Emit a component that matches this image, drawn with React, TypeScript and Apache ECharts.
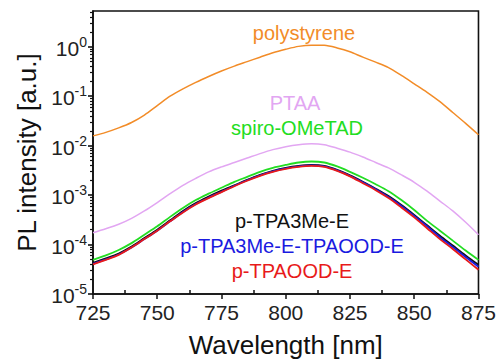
import React, { useEffect, useRef } from "react";
import * as echarts from "echarts";

// Wavelength grid (nm)
const wavelengths = [
  725, 730, 735, 740, 745, 750, 755, 760, 765, 770, 775, 780, 785, 790, 795, 800,
  805, 810, 815, 820, 825, 830, 835, 840, 845, 850, 855, 860, 865, 870, 875,
];

// PL intensity (a.u.)
const polystyrene = [
  0.0158, 0.0186, 0.0229, 0.0295, 0.0417, 0.0646, 0.1, 0.141, 0.191, 0.251, 0.324,
  0.407, 0.501, 0.617, 0.759, 0.891, 1.02, 1.08, 1.07, 0.95, 0.794, 0.617, 0.49, 0.38,
  0.263, 0.178, 0.12, 0.0776, 0.0468, 0.0282, 0.0166,
];
const ptaa = [
  1.74e-4, 2.09e-4, 2.57e-4, 3.39e-4, 4.79e-4, 7.08e-4, 1.07e-3, 1.58e-3, 2.19e-3,
  2.95e-3, 3.72e-3, 4.57e-3, 5.62e-3, 6.92e-3, 8.32e-3, 9.55e-3, 1.05e-2, 1.1e-2,
  1.05e-2, 8.91e-3, 7.41e-3, 5.89e-3, 4.57e-3, 3.55e-3, 2.57e-3, 1.82e-3, 1.2e-3,
  7.59e-4, 4.79e-4, 2.82e-4, 1.58e-4,
];
const spiro = [
  4.9e-5, 6.03e-5, 7.76e-5, 1.07e-4, 1.58e-4, 2.34e-4, 3.63e-4, 5.5e-4, 7.94e-4,
  1.07e-3, 1.41e-3, 1.86e-3, 2.34e-3, 2.95e-3, 3.55e-3, 4.07e-3, 4.57e-3, 4.79e-3,
  4.57e-3, 3.8e-3, 2.95e-3, 2.24e-3, 1.66e-3, 1.2e-3, 7.94e-4, 5.01e-4, 3.02e-4,
  1.91e-4, 1.2e-4, 7.59e-5, 4.9e-5,
];
const tpa3me = [
  4.27e-5, 5.25e-5, 6.61e-5, 9.12e-5, 1.35e-4, 2.0e-4, 3.09e-4, 4.79e-4, 6.92e-4,
  9.33e-4, 1.23e-3, 1.58e-3, 2.04e-3, 2.57e-3, 3.09e-3, 3.55e-3, 3.89e-3, 4.07e-3,
  3.89e-3, 3.24e-3, 2.51e-3, 1.86e-3, 1.35e-3, 9.55e-4, 6.31e-4, 3.98e-4, 2.45e-4,
  1.51e-4, 9.55e-5, 6.03e-5, 3.89e-5,
];
const tpa3meTpaood = [
  4.07e-5, 5.01e-5, 6.31e-5, 8.71e-5, 1.29e-4, 1.91e-4, 2.95e-4, 4.57e-4, 6.61e-4,
  8.91e-4, 1.17e-3, 1.55e-3, 2.0e-3, 2.51e-3, 3.02e-3, 3.47e-3, 3.8e-3, 3.98e-3,
  3.8e-3, 3.16e-3, 2.45e-3, 1.82e-3, 1.32e-3, 9.12e-4, 6.03e-4, 3.8e-4, 2.34e-4,
  1.41e-4, 8.91e-5, 5.62e-5, 3.55e-5,
];
const tpaood = [
  3.98e-5, 4.9e-5, 6.17e-5, 8.71e-5, 1.29e-4, 1.91e-4, 2.95e-4, 4.47e-4, 6.46e-4,
  8.71e-4, 1.15e-3, 1.51e-3, 1.95e-3, 2.45e-3, 2.95e-3, 3.39e-3, 3.72e-3, 3.89e-3,
  3.72e-3, 3.09e-3, 2.4e-3, 1.74e-3, 1.26e-3, 8.71e-4, 5.62e-4, 3.55e-4, 2.14e-4,
  1.29e-4, 8.13e-5, 5.01e-5, 3.09e-5,
];

const seriesNames = [
  "polystyrene",
  "PTAA",
  "spiro-OMeTAD",
  "p-TPA3Me-E",
  "p-TPA3Me-E-TPAOOD-E",
  "p-TPAOOD-E",
];
const seriesColors = ["#F28C28", "#E2A6F2", "#22DD22", "#111111", "#1A1AE0", "#E81A1A"];

// Tick values
const xMin = 725;
const xMax = 875;
const xInterval = 25;
const xMinorTicks = [737.5, 762.5, 787.5, 812.5, 837.5, 862.5];
const yMin = 1e-5;
const yMax = 5.3;
const yMajorTicks = [1e-5, 1e-4, 1e-3, 1e-2, 1e-1, 1];
const yMinorMantissas = [2, 3, 4, 5, 6, 7, 8, 9];
const yDecades = [-5, -4, -3, -2, -1, 0];

const FONT = "'Liberation Sans', Arial, Helvetica, sans-serif";

export default function App() {
  const ref = useRef<HTMLDivElement>(null);

  useEffect(() => {
    if (!ref.current) return;
    const chart = echarts.init(ref.current, null, { renderer: "svg" });
    const allData = [polystyrene, ptaa, spiro, tpa3me, tpa3meTpaood, tpaood];

    const yMinorLog: number[] = [];
    yDecades.forEach((d) =>
      yMinorMantissas.forEach((m) => {
        const v = d + Math.log10(m);
        if (v <= Math.log10(yMax)) yMinorLog.push(v);
      })
    );

    const labelPositions = [
      [304, 33],
      [295, 103],
      [297, 128],
      [292, 221],
      [292, 246],
      [292, 271],
    ];

    chart.setOption({
      animation: false,
      backgroundColor: "#ffffff",
      grid: {
        left: 93,
        right: 20,
        top: 11,
        bottom: 69,
        show: true,
        borderColor: "#111",
        borderWidth: 1.6,
      },
      xAxis: [
        {
          type: "value",
          position: "bottom",
          min: xMin,
          max: xMax,
          interval: xInterval,
          name: "Wavelength [nm]",
          nameLocation: "middle",
          nameGap: 38,
          nameTextStyle: { fontSize: 26, color: "#111", fontFamily: FONT },
          axisLine: { show: true, onZero: false, lineStyle: { color: "#111", width: 1.6 } },
          axisTick: { show: true, inside: false, length: 5, lineStyle: { color: "#111", width: 1.5 } },
          axisLabel: { fontSize: 21, color: "#222", margin: 8, fontFamily: FONT },
          splitLine: { show: false },
        },
        {
          type: "value",
          position: "bottom",
          min: xMin,
          max: xMax,
          axisLine: { show: false, onZero: false },
          axisTick: {
            show: true,
            inside: true,
            length: 4,
            customValues: xMinorTicks,
            lineStyle: { color: "#111", width: 1.5 },
          },
          axisLabel: { show: false },
          splitLine: { show: false },
        },
      ],
      yAxis: [
        {
          type: "log",
          position: "left",
          min: yMin,
          max: yMax,
          logBase: 10,
          name: "PL intensity [a.u.]",
          nameLocation: "middle",
          nameGap: 52,
          nameTextStyle: { fontSize: 26, color: "#111", fontFamily: FONT },
          axisLine: { show: true, onZero: false, lineStyle: { color: "#111", width: 1.6 } },
          axisTick: {
            show: true,
            inside: false,
            length: 5,
            customValues: yMajorTicks,
            lineStyle: { color: "#111", width: 1.6 },
          },
          axisLabel: {
            customValues: yMajorTicks,
            margin: 6,
            fontFamily: FONT,
            formatter: (v: number) => `{b|10}{s|${Math.round(Math.log10(v))}}`,
            rich: {
              b: { fontSize: 21, color: "#222", fontFamily: FONT, lineHeight: 24, verticalAlign: "bottom" },
              s: { fontSize: 14, color: "#222", fontFamily: FONT, lineHeight: 24, verticalAlign: "top" },
            },
          },
          splitLine: { show: false },
          minorTick: { show: false },
        },
        {
          type: "value",
          position: "left",
          min: Math.log10(yMin),
          max: Math.log10(yMax),
          axisLine: { show: false, onZero: false },
          axisTick: {
            show: true,
            inside: false,
            length: 3,
            customValues: yMinorLog,
            lineStyle: { color: "#111", width: 1.2 },
          },
          axisLabel: { show: false },
          splitLine: { show: false },
        },
      ],
      series: allData.map((d, i) => ({
        name: seriesNames[i],
        type: "line",
        xAxisIndex: 0,
        yAxisIndex: 0,
        showSymbol: false,
        symbol: "none",
        smooth: 0.3,
        lineStyle: { color: seriesColors[i], width: i >= 2 ? 1.8 : 1.5 },
        data: wavelengths.map((w, j) => [w, d[j]]),
        z: 2 + i,
      })),
      graphic: seriesNames.map((n, i) => ({
        type: "text",
        x: labelPositions[i][0],
        y: labelPositions[i][1],
        style: {
          text: n,
          fill: seriesColors[i],
          fontSize: 20,
          fontFamily: FONT,
          align: "center",
          verticalAlign: "middle",
        },
        z: 10,
      })),
    });
    return () => chart.dispose();
  }, []);

  return <div ref={ref} style={{ width: 499, height: 363, position: "absolute", left: 0, top: 0 }} />;
}
